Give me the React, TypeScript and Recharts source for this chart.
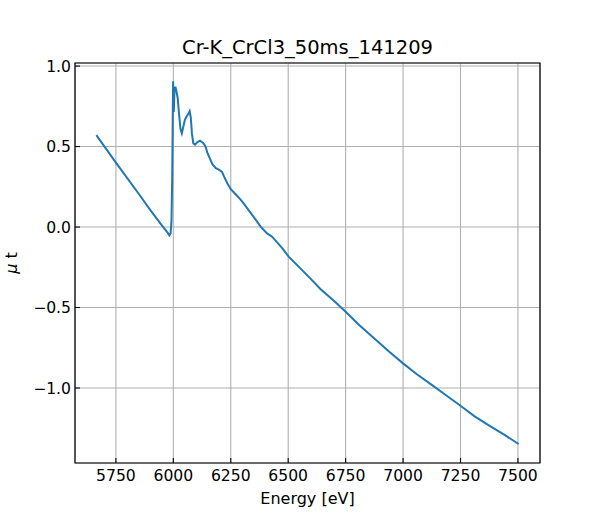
import React from 'react';
import { LineChart, Line, XAxis, YAxis, CartesianGrid, ReferenceArea } from 'recharts';

const energy = [
  5665, 5750, 5850, 5900, 5950, 5975, 5983, 5988, 5992, 5995, 5997, 5999, 6002, 6005, 6009,
  6014, 6019, 6025, 6031, 6037, 6043, 6050, 6057, 6064, 6071, 6076, 6081, 6087, 6095, 6105,
  6116, 6130, 6140, 6148, 6158, 6170, 6185, 6200, 6212, 6222, 6235, 6250, 6270, 6290, 6306,
  6330, 6355, 6380, 6408, 6430, 6473, 6502, 6553, 6596, 6640, 6700, 6750, 6810, 6875, 6940,
  7000, 7060, 7125, 7190, 7250, 7310, 7375, 7440, 7503,
];

const mu = [
  0.571, 0.40, 0.205, 0.105, 0.01, -0.035, -0.052, -0.04, 0.04, 0.3, 0.6, 0.905, 0.715, 0.85, 0.872,
  0.84, 0.80, 0.70, 0.61, 0.582, 0.62, 0.665, 0.685, 0.70, 0.72, 0.68, 0.58, 0.52, 0.512, 0.528,
  0.536, 0.522, 0.50, 0.462, 0.43, 0.39, 0.365, 0.355, 0.343, 0.31, 0.272, 0.235, 0.205, 0.175, 0.147,
  0.10, 0.052, 0.002, -0.04, -0.06, -0.13, -0.184, -0.257, -0.319, -0.385, -0.46, -0.526, -0.61, -0.692, -0.775,
  -0.847, -0.915, -0.981, -1.048, -1.110, -1.175, -1.234, -1.29, -1.348,
];

const xTicks = [5750, 6000, 6250, 6500, 6750, 7000, 7250, 7500];
const yTicks = [-1.0, -0.5, 0.0, 0.5, 1.0];

const xDomain: [number, number] = [5572, 7596];
const yDomain: [number, number] = [-1.466, 1.019];

const data = energy.map((e, i) => ({ e, mu: mu[i] }));

const FONT = 'DejaVu Sans, sans-serif';

const fmtY = (v: number) => (v < 0 ? '\u2212' : '') + Math.abs(v).toFixed(1);

const renderXTick = (props: any) => {
  const { x, y, payload, index } = props;
  return (
    <g key={`xt-${index}`}>
      <line x1={x} x2={x} y1={y} y2={y - 5} stroke="#000" strokeWidth={1.1} />
      <text x={x} y={y + 18} textAnchor="middle" fontFamily={FONT} fontSize={15.6} fill="#000">
        {String(payload.value)}
      </text>
    </g>
  );
};

const renderYTick = (props: any) => {
  const { x, y, payload, index } = props;
  return (
    <g key={`yt-${index}`}>
      <line x1={x} x2={x + 5} y1={y} y2={y} stroke="#000" strokeWidth={1.1} />
      <text x={x - 4} y={y + 5.6} textAnchor="end" fontFamily={FONT} fontSize={15.6} fill="#000">
        {fmtY(payload.value)}
      </text>
    </g>
  );
};

export default function App() {
  return (
    <div style={{ position: 'absolute', left: 0, top: 0, width: 600, height: 520, background: '#fff' }}>
      <LineChart
        width={600}
        height={520}
        data={data}
        margin={{ top: 63, right: 60, bottom: 27, left: 0 }}
      >
        <CartesianGrid stroke="#b0b0b0" strokeWidth={1.1} />
        <XAxis
          dataKey="e"
          type="number"
          domain={xDomain}
          ticks={xTicks}
          allowDataOverflow
          height={30}
          tickSize={0}
          tickMargin={0}
          tick={renderXTick}
          tickLine={false}
          axisLine={false}
          interval={0}
        />
        <YAxis
          type="number"
          domain={yDomain}
          ticks={yTicks}
          allowDataOverflow
          width={75}
          tickSize={0}
          tickMargin={0}
          tick={renderYTick}
          tickLine={false}
          axisLine={false}
          interval={0}
        />
        <Line
          type="linear"
          dataKey="mu"
          stroke="#1f77b4"
          strokeWidth={2}
          dot={false}
          isAnimationActive={false}
        />
        <ReferenceArea
          x1={xDomain[0]}
          x2={xDomain[1]}
          y1={yDomain[0]}
          y2={yDomain[1]}
          fill="none"
          fillOpacity={0}
          stroke="#000"
          strokeWidth={1.2}
          ifOverflow="visible"
        />
      </LineChart>
      <svg
        width={600}
        height={520}
        style={{ position: 'absolute', left: 0, top: 0, pointerEvents: 'none' }}
      >
        <text x={307.5} y={54} textAnchor="middle" fontFamily={FONT} fontSize={19.5} fill="#000">
          Cr-K_CrCl3_50ms_141209
        </text>
        <text x={307.5} y={504} textAnchor="middle" fontFamily={FONT} fontSize={16} fill="#000">
          Energy [eV]
        </text>
        <text
          x={17}
          y={263}
          textAnchor="middle"
          fontFamily={FONT}
          fontSize={16}
          fill="#000"
          transform="rotate(-90 17 263)"
        >
          <tspan fontStyle="italic">μ</tspan>
          <tspan> t</tspan>
        </text>
      </svg>
    </div>
  );
}
